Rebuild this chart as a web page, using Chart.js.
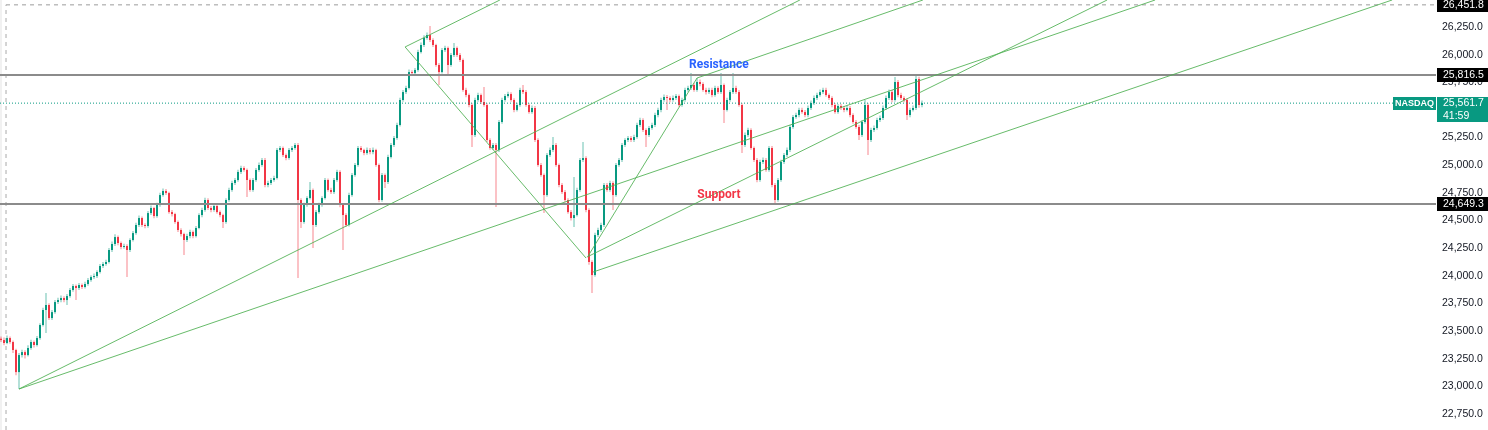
<!DOCTYPE html>
<html>
<head>
<meta charset="utf-8">
<title>NASDAQ</title>
<script src="https://cdn.jsdelivr.net/npm/chart.js@4.4.1/dist/chart.umd.min.js"></script>
<style>
  html, body { margin: 0; padding: 0; background: #ffffff; }
  #wrap { width: 1488px; height: 430px; }
</style>
</head>
<body>
<div id="wrap"><canvas id="priceChart" width="1488" height="430"></canvas></div>
<script>
// hourly candles (index = bar number)
var opens = [23430,23418,23391,23436,23400,23328,23128,23282,23309,23282,
  23346,23400,23373,23436,23554,23690,23735,23617,23671,23762,
  23780,23798,23780,23816,23871,23907,23889,23916,23898,23925,
  23961,23988,23997,24034,24088,24106,24124,24233,24287,24350,
  24296,24260,24269,24233,24323,24386,24459,24522,24459,24450,
  24567,24613,24540,24640,24730,24767,24748,24576,24558,24486,
  24414,24377,24323,24359,24396,24359,24432,24549,24595,24685,
  24613,24595,24631,24576,24549,24486,24685,24776,24839,24866,
  24939,24975,24957,24866,24776,24866,24957,25002,25047,24821,
  24839,24866,24884,25138,25156,25092,25065,25138,25156,25183,
  24685,24486,24640,24703,24776,24459,24576,24640,24703,24866,
  24776,24757,24866,24939,24640,24549,24459,24730,24911,25002,
  25156,25138,25110,25138,25119,25138,25002,24685,24911,24848,
  25074,25183,25246,25364,25590,25662,25699,25843,25834,25862,
  26024,26088,26151,26178,26133,26088,25907,25843,26042,26061,
  25907,25997,26061,25997,25952,25681,25635,25545,25273,25590,
  25635,25572,25545,25228,25156,25183,25138,25391,25590,25626,
  25644,25590,25500,25545,25681,25662,25545,25481,25518,25228,
  25002,24911,24730,25092,25138,25183,25002,24821,24757,24685,
  24576,24522,24549,24776,25047,25065,24595,24124,24006,24368,
  24414,24459,24821,24776,24839,24730,25002,25047,25183,25228,
  25246,25228,25255,25364,25409,25319,25273,25337,25364,25454,
  25500,25590,25617,25608,25590,25608,25626,25545,25590,25681,
  25699,25726,25681,25753,25735,25681,25662,25681,25635,25699,
  25662,25726,25500,25590,25662,25699,25662,25545,25183,25273,
  25319,25156,25047,24866,25029,25047,24957,25156,24821,24685,
  24866,25029,25092,25138,25346,25436,25454,25500,25481,25454,
  25518,25563,25608,25635,25662,25681,25635,25608,25545,25481,
  25536,25518,25500,25518,25454,25391,25346,25273,25391,25545,
  25228,25319,25337,25409,25427,25518,25608,25662,25590,25753,
  25635,25608,25590,25454,25500,25518,25780,25545];

var highs = [23450,23440,23460,23450,23415,23340,23300,23330,23325,23370,
  23420,23415,23455,23570,23710,23843,23750,23690,23780,23800,
  23820,23815,23835,23890,23925,23920,23935,23930,23945,23980,
  24005,24020,24050,24105,24125,24145,24250,24310,24375,24365,
  24310,24290,24285,24340,24405,24480,24545,24535,24475,24585,
  24635,24625,24660,24750,24790,24785,24760,24595,24570,24500,
  24430,24390,24380,24415,24410,24450,24565,24615,24705,24700,
  24630,24650,24645,24590,24560,24700,24795,24860,24885,24960,
  24995,24990,24970,24880,24885,24975,25025,25065,25065,24860,
  24885,24905,25155,25175,25170,25105,25155,25175,25200,25201,
  24700,24660,24720,24848,24790,24595,24660,24720,24885,24880,
  24795,24885,24960,24955,24655,24565,24750,24930,25020,25175,
  25175,25150,25160,25155,25160,25150,25015,24930,24925,25095,
  25200,25265,25385,25610,25680,25720,25865,25860,25880,26045,
  26110,26175,26200,26260,26150,26100,25925,26060,26080,26075,
  26015,26106,26075,26015,25965,25700,25650,25560,25610,25655,
  25650,25708,25560,25245,25200,25200,25410,25610,25645,25665,
  25660,25605,25565,25700,25726,25680,25560,25540,25535,25245,
  25020,24925,25110,25160,25255,25200,25015,24840,24775,24700,
  24595,24893,24795,25065,25210,25080,24610,24140,24390,24435,
  24480,24840,24840,24860,24855,25020,25065,25200,25245,25265,
  25265,25275,25385,25430,25425,25335,25355,25385,25475,25520,
  25610,25640,25635,25625,25630,25645,25640,25610,25700,25720,
  25834,25745,25789,25775,25750,25700,25700,25700,25720,25715,
  25834,25740,25610,25680,25834,25720,25680,25560,25295,25340,
  25335,25170,25065,25050,25070,25065,25175,25175,24840,24885,
  25050,25110,25160,25365,25455,25475,25520,25520,25500,25540,
  25585,25630,25655,25685,25700,25700,25650,25625,25560,25555,
  25555,25535,25540,25535,25470,25410,25365,25410,25590,25560,
  25340,25360,25430,25450,25540,25630,25685,25680,25798,25770,
  25655,25625,25605,25520,25540,25816,25800,25585];

var lows = [23400,23370,23380,23385,23300,23100,22975,23260,23250,23270,
  23330,23350,23360,23420,23540,23481,23600,23600,23655,23745,
  23760,23760,23735,23800,23855,23780,23870,23880,23885,23910,
  23945,23970,23980,24020,24070,24090,24110,24215,24270,24275,
  24240,24245,23988,24215,24310,24370,24440,24440,24430,24435,
  24550,24520,24525,24625,24715,24730,24560,24535,24470,24395,
  24355,24187,24305,24340,24340,24345,24420,24530,24580,24595,
  24575,24580,24560,24530,24432,24470,24670,24760,24820,24850,
  24920,24940,24712,24760,24760,24850,24940,24985,24800,24800,
  24820,24850,24870,25120,25075,25045,25050,25120,25140,23979,
  24432,24470,24625,24690,24251,24440,24560,24625,24690,24760,
  24740,24740,24850,24620,24233,24440,24445,24715,24895,24985,
  25120,25090,25095,25100,25100,24985,24665,24670,24794,24830,
  25060,25165,25230,25350,25575,25645,25685,25815,25815,25845,
  26010,26070,26135,26115,26070,25890,25726,25830,26025,25816,
  25890,25980,25980,25935,25665,25615,25525,25165,25255,25575,
  25555,25530,25210,25140,25140,24622,25120,25375,25575,25610,
  25575,25480,25485,25530,25645,25530,25465,25465,25210,24985,
  24895,24567,24715,25075,25120,24985,24800,24740,24665,24560,
  24500,24441,24535,24760,25030,24575,24100,23843,23990,24350,
  24395,24440,24760,24760,24595,24715,24985,25030,25165,25210,
  25210,25210,25240,25345,25300,25165,25255,25320,25345,25435,
  25480,25575,25500,25570,25575,25590,25530,25530,25575,25665,
  25680,25665,25665,25715,25665,25640,25645,25615,25620,25645,
  25645,25382,25485,25575,25645,25645,25530,25110,25165,25255,
  25140,25030,24845,24850,25010,24940,24940,24800,24649,24670,
  24850,25010,25075,25120,25330,25420,25435,25465,25435,25435,
  25500,25545,25590,25620,25645,25620,25590,25525,25465,25465,
  25500,25480,25485,25435,25375,25330,25228,25255,25375,25092,
  25210,25300,25320,25390,25410,25500,25590,25570,25575,25615,
  25590,25570,25409,25435,25485,25500,25520,25525];

var closes = [23418,23391,23436,23400,23328,23128,23282,23309,23282,23346,
  23400,23373,23436,23554,23690,23735,23617,23671,23762,23780,
  23798,23780,23816,23871,23907,23889,23916,23898,23925,23961,
  23988,23997,24034,24088,24106,24124,24233,24287,24350,24296,
  24260,24269,24233,24323,24386,24459,24522,24459,24450,24567,
  24613,24540,24640,24730,24767,24748,24576,24558,24486,24414,
  24377,24323,24359,24396,24359,24432,24549,24595,24685,24613,
  24595,24631,24576,24549,24486,24685,24776,24839,24866,24939,
  24975,24957,24866,24776,24866,24957,25002,25047,24821,24839,
  24866,24884,25138,25156,25092,25065,25138,25156,25183,24685,
  24486,24640,24703,24776,24459,24576,24640,24703,24866,24776,
  24757,24866,24939,24640,24549,24459,24730,24911,25002,25156,
  25138,25110,25138,25119,25138,25002,24685,24911,24848,25074,
  25183,25246,25364,25590,25662,25699,25843,25834,25862,26024,
  26088,26151,26178,26133,26088,25907,25843,26042,26061,25907,
  25997,26061,25997,25952,25681,25635,25545,25273,25590,25635,
  25572,25545,25228,25156,25183,25138,25391,25590,25626,25644,
  25590,25500,25545,25681,25662,25545,25481,25518,25228,25002,
  24911,24730,25092,25138,25183,25002,24821,24757,24685,24576,
  24522,24549,24776,25047,25065,24595,24124,24006,24368,24414,
  24459,24821,24776,24839,24730,25002,25047,25183,25228,25246,
  25228,25255,25364,25409,25319,25273,25337,25364,25454,25500,
  25590,25617,25608,25590,25608,25626,25545,25590,25681,25699,
  25726,25681,25753,25735,25681,25662,25681,25635,25699,25662,
  25726,25500,25590,25662,25699,25662,25545,25183,25273,25319,
  25156,25047,24866,25029,25047,24957,25156,24821,24685,24866,
  25029,25092,25138,25346,25436,25454,25500,25481,25454,25518,
  25563,25608,25635,25662,25681,25635,25608,25545,25481,25536,
  25518,25500,25518,25454,25391,25346,25273,25391,25545,25228,
  25319,25337,25409,25427,25518,25608,25662,25590,25753,25635,
  25608,25590,25454,25500,25518,25780,25545,25561.7];

// drawings: [barIndex, price] start and end points
var trendLines = [
  [[6, 22975], [266.3, 26495]],
  [[6, 22975], [384.7, 26495]],
  [[197.3, 24033], [463.7, 26495]],
  [[195.3, 24169], [368.7, 26495]],
  [[134.7, 26070], [166.3, 26495]],
  [[134.7, 26070], [195, 24160]],
  [[195.7, 24178], [232, 25789]],
  [[232, 25789], [307.3, 26495]]
];
var levels = [25816.5, 24649.3];
var alertLevel = 26451.8;
var lastPrice = 25561.7;
var countdown = '41:59';
var symbol = 'NASDAQ';
var notes = [
  { text: 'Resistance', x: 239.3, y: 25911, color: '#2962ff' },
  { text: 'Support', x: 239.3, y: 24735, color: '#f23645' }
];
var xMin = -1 / 3, xMax = 478.33;
var yMin = 22604, yMax = 26495;

var UP = '#089981', DOWN = '#f23645';

function fmt(v) {
  return v.toLocaleString('en-US', { minimumFractionDigits: 1, maximumFractionDigits: 1 });
}

var bodyColors = closes.map(function (c, i) { return c >= opens[i] ? UP : DOWN; });
var wickColors = closes.map(function (c, i) {
  return c >= opens[i] ? 'rgba(8,153,129,0.6)' : 'rgba(242,54,69,0.6)';
});

var datasets = [];

datasets.push({
  type: 'bar', label: 'wick', order: 5, grouped: false,
  data: highs.map(function (h, i) { return { x: i, y: [lows[i], h] }; }),
  backgroundColor: wickColors, barThickness: 1, inflateAmount: 0, borderWidth: 0
});
datasets.push({
  type: 'bar', label: 'body', order: 4, grouped: false, minBarLength: 1,
  data: closes.map(function (c, i) { return { x: i, y: [Math.min(opens[i], c), Math.max(opens[i], c)] }; }),
  backgroundColor: bodyColors, barThickness: 2, inflateAmount: 0, borderWidth: 0
});

function line(points, color, width, dash, order) {
  return {
    type: 'line', order: order,
    data: points.map(function (p) { return { x: p[0], y: p[1] }; }),
    borderColor: color, borderWidth: width, borderDash: dash || [],
    pointRadius: 0, fill: false, tension: 0
  };
}

// pane edge and session marker
datasets.push(line([[0, yMin], [0, yMax]], '#e3e3e3', 1, null, 7));
datasets.push(line([[1.67, yMin], [1.67, alertLevel]], '#a9a9a9', 1, [4, 4], 6));
datasets.push(line([[1.67, alertLevel], [xMax, alertLevel]], '#bdbdbd', 1.5, [4, 4], 6));
datasets.push(line([[xMin, lastPrice], [464, lastPrice]], UP, 1, [1, 2], 3));
levels.forEach(function (lv) {
  datasets.push(line([[xMin, lv], [xMax, lv]], '#8b8b8b', 2, null, 2));
});
trendLines.forEach(function (tl) {
  datasets.push(line(tl, 'rgba(76,175,80,0.85)', 1, null, 1));
});

var overlay = {
  id: 'overlay',
  afterDatasetsDraw: function (chart) {
    var ctx = chart.ctx, xs = chart.scales.x, ys = chart.scales.y;
    ctx.save();
    ctx.font = 'bold 12px Roboto';
    ctx.textAlign = 'center';
    ctx.textBaseline = 'middle';
    notes.forEach(function (n) {
      ctx.fillStyle = n.color;
      ctx.fillText(n.text, xs.getPixelForValue(n.x), ys.getPixelForValue(n.y));
    });
    ctx.restore();
  },
  afterDraw: function (chart) {
    var ctx = chart.ctx, ys = chart.scales.y, area = chart.chartArea;
    var left = area.right + 1;
    ctx.save();
    ctx.textBaseline = 'middle';
    ctx.textAlign = 'left';
    ctx.font = '10.5px "Liberation Sans"';

    function tag(price) {
      var y = Math.round(ys.getPixelForValue(price));
      ctx.fillStyle = '#000000';
      ctx.fillRect(left, y - 7, 52, 14);
      ctx.fillStyle = '#ffffff';
      ctx.fillText(fmt(price), left + 6, y + 0.5);
    }
    tag(alertLevel);
    levels.forEach(tag);

    var yp = Math.round(ys.getPixelForValue(lastPrice));
    ctx.fillStyle = UP;
    ctx.fillRect(left, yp - 6, 52, 25);
    ctx.fillRect(area.right - 43, yp - 6, 43, 13);
    ctx.fillStyle = '#ffffff';
    ctx.fillText(fmt(lastPrice), left + 6, yp + 0.5);
    ctx.fillText(countdown, left + 6, yp + 13);
    ctx.font = 'bold 9px "Liberation Sans"';
    ctx.textAlign = 'center';
    ctx.fillText(symbol, area.right - 21.5, yp + 0.5);
    ctx.restore();
  }
};

var chart = new Chart(document.getElementById('priceChart').getContext('2d'), {
  type: 'bar',
  data: { datasets: datasets },
  options: {
    responsive: false,
    animation: false,
    devicePixelRatio: 1,
    layout: { padding: 0 },
    plugins: { legend: { display: false }, tooltip: { enabled: false } },
    scales: {
      x: {
        type: 'linear', min: xMin, max: xMax, offset: false, display: false
      },
      y: {
        position: 'right', min: yMin, max: yMax,
        grid: { display: false, drawTicks: false },
        border: { display: false },
        ticks: {
          stepSize: 250, includeBounds: false, padding: 6,
          color: '#131722', font: { family: 'Liberation Sans', size: 10.5 },
          callback: function (v) { return fmt(v); }
        },
        afterFit: function (scale) {
          scale.width = 52;
          scale.paddingTop = 0;
          scale.paddingBottom = 0;
        }
      }
    }
  },
  plugins: [overlay]
});
</script>
</body>
</html>
